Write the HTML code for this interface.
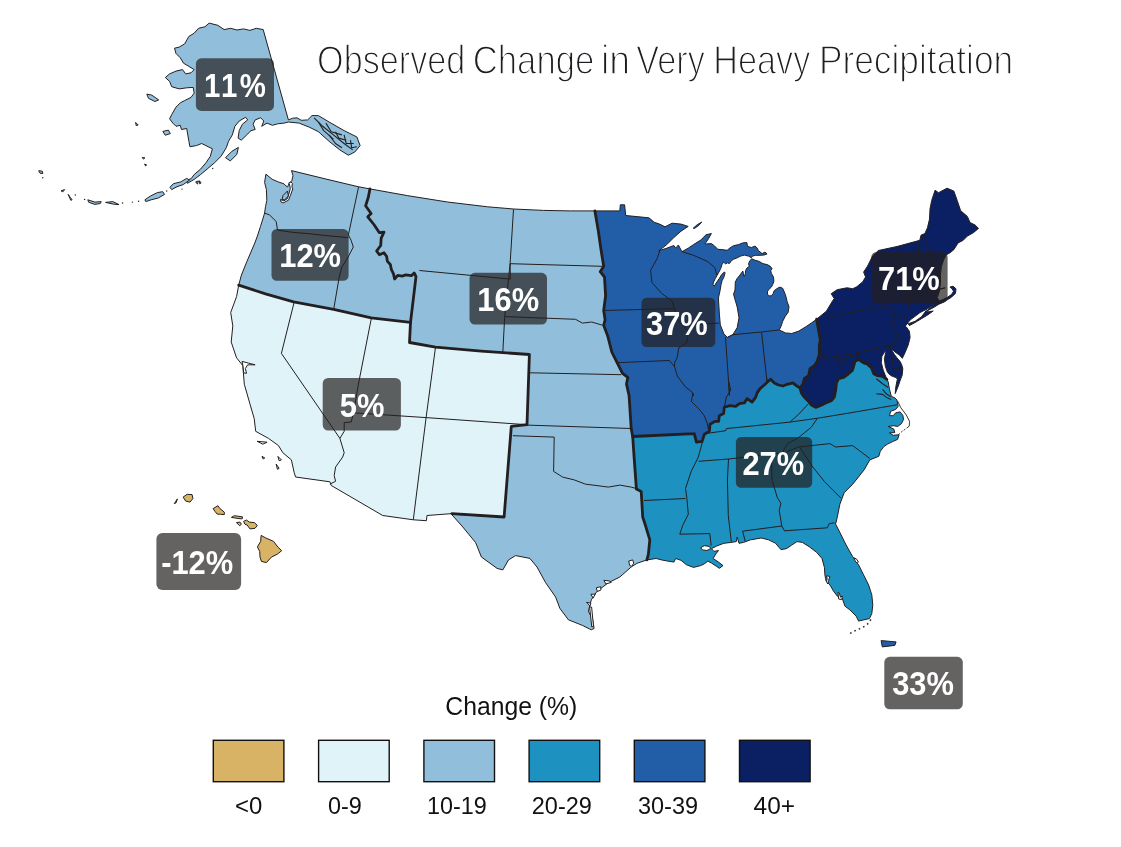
<!DOCTYPE html>
<html lang="en"><head><meta charset="utf-8"><title>Observed Change in Very Heavy Precipitation</title>
<style>html,body{margin:0;padding:0;background:#fff}body{width:1121px;height:847px;overflow:hidden}svg{display:block}</style></head>
<body>
<svg width="1121" height="847" viewBox="0 0 1121 847">
<rect width="1121" height="847" fill="#fff"/>
<text y="73.8" font-family="'Liberation Sans', sans-serif" font-size="40.5" fill="#1e1e22" stroke="#fff" stroke-width="1.4"><tspan x="317.11" textLength="148.19" lengthAdjust="spacingAndGlyphs">Observed</tspan> <tspan x="472.72" textLength="121.57" lengthAdjust="spacingAndGlyphs">Change</tspan> <tspan x="601.05" textLength="29.11" lengthAdjust="spacingAndGlyphs">in</tspan> <tspan x="636.36" textLength="68.48" lengthAdjust="spacingAndGlyphs">Very</tspan> <tspan x="713.27" textLength="96.98" lengthAdjust="spacingAndGlyphs">Heavy</tspan> <tspan x="818.90" textLength="194.37" lengthAdjust="spacingAndGlyphs">Precipitation</tspan></text>
<g stroke="#231F20" stroke-width="1" stroke-linejoin="round">
<path d="M291.5 170.6 L327 179.3 L358.6 186.8 L369.9 188.9 L368.4 197 L365.6 205.8 L371.1 213.5 L367.8 216.8 L373.9 224.5 L379.4 232.7 L384 232.1 L381.2 238.2 L380.7 245.5 L376.6 251 L379.4 254.7 L384 252.8 L386.7 256.5 L387.3 261.1 L390.4 264.7 L391.3 269.3 L393.5 273.9 L394.6 279 L397.7 275.4 L402.3 276.1 L405.9 274.8 L411.4 275.7 L414.2 273 L416 276.6 L410.5 322.4 L371.2 317.9 L333.7 309.3 L293.6 301.8 L265.5 293.8 L238.7 285.2 L241.4 275.1 L246.8 261.7 L254.8 243 L257.4 236 L260.5 226.4 L264.1 214.8 L264.6 213 L265.5 206.7 L266.8 200.4 L266.4 189.6 L264.6 182.4 L265.9 174.2 L272.2 179.3 L278.5 182 L283.9 183.8 L286.1 186 L287.5 186.9 L289.2 183.5 L291.8 180.8 L293 175.7 L291.5 170.6Z" fill="#91BFDB"/>
<path d="M238.7 285.2 L265.5 293.8 L293.6 301.8 L333.7 309.3 L371.2 317.9 L410.5 322.4 L410.5 322.4 L409.5 342.5 L435.5 347.1 L481.2 351.1 L529.4 354.5 L527 424.6 L511.3 426.4 L504.1 517 L452 513.6 L427 515.5 L426.4 520.7 L413.3 519.8 L382.7 515.5 L331.3 485.5 L329.9 481.8 L295.6 477 L294.2 472.7 L291.4 459.9 L282.8 452.7 L278.5 445.6 L268.5 438.4 L255.7 431.3 L254.2 418.5 L250 404.2 L244.3 384.2 L242.8 365.6 L237.1 358.5 L236.6 358 L231.2 342 L232.8 325.9 L230.7 312.5 L236.6 296.5 L238.7 285.2Z" fill="#E0F3F9"/>
<path d="M369.9 188.9 L407.3 195.6 L447.5 202 L487.6 206.8 L513.6 209 L543.5 210.4 L570.3 210.9 L594.9 210.9 L598.4 231.5 L601.1 250.3 L603.7 266.3 L600.2 271.7 L604.5 277 L605.6 295.8 L603.7 310.5 L605.1 319.9 L603.7 325.2 L607.7 335.9 L611.8 352 L617.1 362.7 L622.5 373.4 L627.8 377.4 L626.5 384.1 L629.1 395.8 L631.2 428.5 L632.7 436.5 L634.1 457.1 L636.4 489.1 L641.2 491.4 L642.7 517 L645.5 525.6 L649.8 539.9 L648.4 554.2 L646.9 559.9 L637 563.3 L631.2 567 L619.8 577 L608.4 582.7 L597 591.3 L591.3 599.8 L588.4 611.2 L592.7 619.8 L594.1 628.4 L591.3 629.8 L582.7 625.5 L568.4 619.8 L559.9 608.4 L555.6 597 L545.6 582.7 L537 567 L529.9 558.4 L515.6 555.6 L508.5 559.9 L502.8 569.9 L497.1 568.4 L481.4 557 L475.7 542.7 L462.8 527 L451.4 514.2 L504.1 517 L511.3 426.4 L527 424.6 L529.4 354.5 L481.2 351.1 L435.5 347.1 L409.5 342.5 L410.5 322.4 L416 276.6 L414.2 273 L411.4 275.7 L405.9 274.8 L402.3 276.1 L397.7 275.4 L394.6 279 L393.5 273.9 L391.3 269.3 L390.4 264.7 L387.3 261.1 L386.7 256.5 L384 252.8 L379.4 254.7 L376.6 251 L380.7 245.5 L381.2 238.2 L384 232.1 L379.4 232.7 L373.9 224.5 L367.8 216.8 L371.1 213.5 L365.6 205.8 L368.4 197 L369.9 188.9Z" fill="#91BFDB"/>
<path d="M594.9 210.9 L619.8 210.9 L620.3 204.8 L624.6 204.8 L625.7 215.5 L648.9 217.8 L654.3 222.3 L659.6 224.1 L665 226.8 L672.1 223.2 L681 224.1 L688.2 226.4 L681 231.2 L673.9 237.5 L666.8 244.6 L658.7 250.8 L666.8 248.2 L673.9 245.5 L675.7 248.2 L678.4 245 L681.9 251.7 L688.2 248.2 L693.5 244.6 L700.7 240.1 L706 234.8 L711.4 233.5 L708.7 238.4 L705.1 243.7 L706.4 243.9 L711.4 243.6 L714.3 245.7 L717.8 249.3 L722.1 249.6 L727.1 250.3 L730 247.9 L733.5 245.7 L738.5 244.6 L742.8 242.9 L746.8 242.5 L747.5 246.4 L751.4 247.5 L755 246.1 L757.1 247.9 L758.5 250.7 L762.1 253.6 L765 252.1 L767.1 253.9 L764.2 255 L760 255.3 L755.7 255.3 L752.5 256.1 L751.4 257.7 L748.5 256.1 L744.3 255.1 L740.7 256.1 L737.1 257.8 L733.5 259.3 L731.4 260.7 L729.3 263.6 L727.5 262.8 L725.7 263.9 L723.6 262.1 L722.1 264.3 L720.7 268.6 L718.9 272.1 L717.1 275.3 L715.3 278.5 L713.6 282.1 L712.8 285 L714.3 286 L716.8 282.1 L719.3 278.5 L721.4 275 L723.6 272.5 L724.8 272.1 L725 273.2 L723.9 277.1 L722.1 280.7 L721.1 284.3 L720.3 289.3 L719.3 294.2 L718.6 297.1 L718.5 299.9 L719.4 314.2 L720.3 324.9 L723.9 333.8 L727.4 337.4 L732.8 334.7 L737.2 327.6 L739 317.8 L737.2 307 L733.5 294.2 L735 290 L735.3 282.1 L737.1 278.5 L740 275 L742.1 272.1 L742.8 271 L743.4 273.5 L743.7 276 L744.6 276 L745.3 273.5 L745.7 270.3 L747.1 267.8 L749.3 266.4 L748.5 263.6 L750 260.7 L751.7 258.7 L755 260.3 L759.2 261.4 L762.8 263.6 L767.1 264.6 L770 266.1 L772.1 268.6 L770.7 270.7 L771.4 273.5 L773.5 277.1 L773.9 281.4 L772.8 284.3 L771.4 287.1 L768.9 289.3 L767.5 291.4 L767.5 294.2 L769.2 296 L771.4 295.7 L773.2 293.5 L774.2 290.7 L777.1 288.5 L780 287.1 L782.7 288.3 L785.4 294.6 L787.2 301.7 L789 307 L788.1 312.4 L785.4 316 L782.7 321.3 L780.9 326.7 L779.2 329.9 L785.4 332.9 L791.7 333.5 L798.8 331.1 L805.9 326.7 L811.3 323.1 L816.6 319.2 L818.5 330 L820.3 340 L819.3 345.7 L819.3 354.3 L817.1 361.4 L814.3 365.7 L810 368.6 L808.6 375.7 L804.3 378.6 L802.9 384.3 L800 387.9 L796.4 385.7 L792.9 382.9 L787.1 384.3 L782.9 386 L778.6 385 L774.3 382.9 L770.7 379.3 L767.9 381.4 L764.3 385 L760 388.6 L757.1 392.9 L755.7 397.1 L752.1 402.1 L747.1 398.6 L744.3 402.9 L739.3 403.6 L735.7 406.4 L730 405.7 L724.3 407.1 L723.6 413.6 L719.3 415.7 L718.6 421.4 L715 421.4 L710 424.3 L709.3 431.4 L704.3 434.3 L702.1 441.4 L696.4 442.1 L694.3 433.6 L694.1 433.7 L632.7 436.5 L631.2 428.5 L629.1 395.8 L626.5 384.1 L627.8 377.4 L622.5 373.4 L617.1 362.7 L611.8 352 L607.7 335.9 L603.7 325.2 L605.1 319.9 L603.7 310.5 L605.6 295.8 L604.5 277 L600.2 271.7 L603.7 266.3 L601.1 250.3 L598.4 231.5 L594.9 210.9Z" fill="#225EA8"/>
<path d="M632.7 436.5 L694.1 433.7 L694.3 433.6 L696.4 442.1 L702.1 441.4 L704.3 434.3 L709.3 431.4 L710 424.3 L715 421.4 L718.6 421.4 L719.3 415.7 L723.6 413.6 L724.3 407.1 L730 405.7 L735.7 406.4 L739.3 403.6 L744.3 402.9 L747.1 398.6 L752.1 402.1 L755.7 397.1 L757.1 392.9 L760 388.6 L764.3 385 L767.9 381.4 L770.7 379.3 L774.3 382.9 L778.6 385 L782.9 386 L787.1 384.3 L792.9 382.9 L796.4 385.7 L800 387.9 L801.4 392.9 L804.3 397.1 L808.6 401.4 L811.4 405 L815.7 407.4 L820 405.7 L825.7 402.9 L831.4 400.7 L834.3 397.1 L835.7 390 L836.4 382.9 L838.6 378.6 L843.6 377.4 L847.9 374.3 L852.5 370.1 L855 361.3 L858.8 359.4 L863.1 362.6 L866.9 363.8 L871.3 367.6 L873.8 373.8 L877.5 375.7 L882.5 376.3 L886.9 379.4 L888.2 381.9 L889.4 388.8 L891.3 396.3 L895.1 398.1 L896.9 400 L898.2 406.3 L895.7 409.4 L890.7 411.3 L889.4 415.7 L893.2 415.7 L895.7 412.8 L900.1 411.9 L902.8 415.3 L903.6 419.4 L901.3 423.8 L897.6 426.5 L893.8 425.7 L888.2 426.5 L893.8 429.1 L894.8 432.6 L889.4 432.9 L893.2 435.3 L899.1 434.7 L897.6 439.4 L892.6 441.6 L887.6 444.1 L883.8 446.6 L880.3 451.3 L878.8 456.3 L875 457.8 L869.8 459.9 L864.1 469.9 L852.7 484.2 L844.2 492.7 L839.9 504.1 L837 518.4 L835.6 524.1 L839.9 532.5 L846.1 545 L852.4 556.2 L858.6 564.9 L863.6 574.9 L868.6 584.9 L871.8 594.9 L872.8 604.9 L871.8 613.6 L869.4 618.6 L863.6 619.9 L858.6 621.1 L856.1 616.1 L849.9 609.9 L844.9 606.1 L842.4 598.7 L837.4 596.2 L833.6 591.2 L829.9 584.9 L826.1 581.2 L824.9 574.9 L824.4 567.4 L822 558.5 L816.6 552.3 L809.5 546.9 L802.4 542.4 L797 541.6 L791.7 545.1 L786.3 548.7 L780.9 549.6 L775.6 543.3 L768.5 539.8 L761.3 538 L750.6 539.8 L743.5 542.4 L739 543.3 L737.2 537.1 L736.3 541.6 L731 542.4 L723.9 543.3 L716.7 546 L711.4 548.7 L714 551.4 L718.5 550.5 L715.8 554 L713.1 558.5 L718.5 562.1 L723 565.6 L719.4 568.3 L716.7 566.5 L711.4 563 L707.8 561.2 L704.2 563.9 L700.7 565.6 L693.5 567.4 L686.4 564.7 L681 560.3 L675.7 558.5 L673.9 562.1 L663.2 560.3 L656.1 558.5 L646.9 559.9 L648.4 554.2 L649.8 539.9 L645.5 525.6 L642.7 517 L641.2 491.4 L636.4 489.1 L634.1 457.1 L632.7 436.5Z" fill="#1D91C0"/>
<path d="M886.9 379.4 L883.2 370.1 L881.3 362.6 L881.9 356.3 L885 351.3 L885.7 352.5 L884.4 358.8 L885.3 366.3 L887.5 372.3 L890.4 375.3 L893.5 376.7 L896.3 377.6 L897.3 379.4 L895.9 386.3 L895.2 393.6 L898.2 386.3 L900.3 380.1 L902.2 375.1 L902.8 368.8 L901.6 364.4 L899.8 361.1 L896.9 357.8 L894.4 354.4 L892.5 351.3 L891.5 348.5 L893.2 350.4 L896.3 352.9 L899.8 355.4 L902.3 358.3 L905.1 352.5 L908.2 345 L910.1 337.5 L909.4 331.3 L906.3 326.9 L905.1 326.3 L908.2 322.5 L910.1 320 L920.1 312.5 L927.6 308.8 L935.1 303.8 L926.6 311.2 L934.3 307.1 L938.5 304.4 L942.4 302.7 L946.5 300.3 L951.3 297.3 L955.5 293.4 L956 288.8 L953 286.2 L949.9 287.1 L952.1 288.8 L953.5 291.3 L951.8 294.2 L947.5 297.3 L942.8 299.6 L939 301 L937.3 297.6 L939.4 291.3 L940.6 282 L940.4 275.2 L941.4 266.7 L943.6 259.9 L946.2 254.8 L949.6 253.1 L953.8 249.7 L958.1 242.9 L963.2 240.3 L967.4 236.1 L973.4 232.7 L978.5 228.4 L975.1 225 L970 222.5 L967.4 216.5 L960.6 210.6 L957.2 200.4 L953.8 191 L947 188.2 L938.5 192.7 L935.1 190.2 L931.7 200.4 L930 208.9 L929.5 219.1 L927.5 227.6 L924.9 233.5 L921 235.2 L919.8 240.3 L897 246.5 L878.3 250.5 L872.4 256.4 L867.5 266.2 L863.6 272.1 L865.6 277 L862.6 281.9 L856.7 286.8 L852.8 288.7 L846.9 287.8 L837.1 289.7 L831.2 293.7 L834.2 298.6 L832.2 301.5 L826.3 311.3 L816.5 319.2 L818.5 330 L820.3 340 L819.3 345.7 L819.3 354.3 L817.1 361.4 L814.3 365.7 L810 368.6 L808.6 375.7 L804.3 378.6 L802.9 384.3 L800 387.9 L801.4 392.9 L804.3 397.1 L808.6 401.4 L811.4 405 L815.7 407.4 L820 405.7 L825.7 402.9 L831.4 400.7 L834.3 397.1 L835.7 390 L836.4 382.9 L838.6 378.6 L843.6 377.4 L847.9 374.3 L852.5 370.1 L855 361.3 L858.8 359.4 L863.1 362.6 L866.9 363.8 L871.3 367.6 L873.8 373.8 L877.5 375.7 L882.5 376.3 L886.9 379.4Z" fill="#0A2063"/>
<path d="M908.2 323.8 L915.1 321.3 L921.3 316.9 L926.3 310.6 L927.6 311.9 L933.2 311 L927.6 315 L921.3 318.8 L915.1 322.5 L909.4 325.6Z" fill="#0A2063"/>
<path d="M263.2 29.6 L256.3 28.3 L249.9 30.4 L243.5 28.9 L237 30 L230.6 28.3 L224.2 29.6 L217.8 25.3 L209.2 23.1 L204.9 26.8 L198.5 28.3 L194.2 33.2 L188.9 36.4 L184.6 43.9 L179.2 47.1 L174.5 48.2 L176 53.5 L180.3 57.8 L183.5 63.2 L188.9 66.4 L194.2 69.6 L191 72.8 L185.7 73.9 L182.5 69.6 L176 71.1 L169.6 73.9 L165.3 77.5 L169.6 81.4 L171.7 86.7 L179.2 88.9 L186.7 87.8 L193.2 87.4 L194.2 93.1 L191 97.4 L184.6 100.6 L180.3 102.8 L176 107.1 L171.7 114.6 L169.6 118.8 L172.8 123.1 L176 126.3 L180.3 125.3 L181.4 129.5 L186.7 128.5 L187.8 134.9 L188.9 141.3 L189.9 146.7 L196.4 145.6 L201.7 143.5 L208.1 146.7 L212.4 148.8 L210.3 156.3 L206 162.7 L200.6 169.1 L194.2 174.5 L191 178.8 L186.1 180.3 L187.4 183.3 L194.2 179.4 L200.6 174.5 L207.1 169.1 L214.6 162.7 L221 156.3 L226.3 147.7 L228.5 141.3 L232.3 134.9 L234.9 126.3 L239.2 121 L245.6 117.3 L247.7 119.9 L242.4 124.2 L239.2 130.6 L238.1 138.1 L241.3 140.2 L246.7 134.9 L251 130.6 L255.2 129.5 L253.1 124.2 L255.2 119.9 L260.6 117.8 L263.8 121 L261.7 126.3 L267 123.1 L272.4 125.3 L277.7 123.8 L284.1 123.1 L288.4 122 L299.1 123.1 L309.8 127.4 L318.4 131.7 L329.1 141.3 L339.8 149.9 L348.4 155.2 L354.8 152 L360.1 145.6 L356.9 137 L344.1 130.6 L329.1 122 L318.4 115.6 L312 115.6 L307.7 119.9 L301.3 120.3 L297 117.8 L292.7 118.2 L288.4 119.9Z" fill="#91BFDB"/>
<path d="M146.8 94.1 L151.7 95.1 L158.7 99.9 L154.9 101.5 L148.5 98.3Z" fill="#91BFDB"/>
<path d="M162.9 131.4 L168.4 130.1 L170.3 133.6 L165.2 135.2Z" fill="#91BFDB"/>
<path d="M225.5 157.7 L231.9 151.3 L238.4 147.4 L236.8 154.5 L230.3 160.9Z" fill="#91BFDB"/>
<path d="M135.6 122.4 L138.2 125 L136.2 125.6Z" fill="#91BFDB"/>
<path d="M169.9 187.3 L173.4 183.7 L180.6 181.9 L186.8 178.4 L189.5 180.1 L183.2 184.6 L177 186.7 L171.7 189.6Z" fill="#91BFDB"/>
<path d="M144.9 199.8 L150.2 196.2 L157.4 192.6 L162.7 191.7 L164.5 194.4 L158.3 198 L151.1 199.8 L145.8 201.6Z" fill="#91BFDB"/>
<path d="M105.6 202.4 L112.8 201.6 L119 204.6 L113.7 204.2Z" fill="#91BFDB"/>
<path d="M87.8 199.8 L94.9 202.1 L101.2 201.6 L100.3 203.5 L94.9 204.4 L88.7 202.3Z" fill="#91BFDB"/>
<path d="M68.2 194.4 L70 197.1 L72.1 199.8 L70.8 200.3Z" fill="#91BFDB"/>
<path d="M61 190.8 L64.6 189.6 L62.8 191.9Z" fill="#91BFDB"/>
<path d="M38.7 170.7 L42.3 171.2 L42.8 173.5 L40 173.2Z" fill="#91BFDB"/>
<path d="M142.2 157.5 L144.9 157.8 L143.5 159.1Z" fill="#91BFDB"/>
<path d="M144.5 164.1 L146.7 165 L145.6 165.9Z" fill="#91BFDB"/>
<path d="M195.7 181.9 L198.4 181 L197.5 184.2Z" fill="#91BFDB"/>
<path d="M199.3 180.7 L201.1 182.8 L199.8 183.9Z" fill="#91BFDB"/>
<circle cx="132.4" cy="202.1" r="0.7" fill="#231F20" stroke="none"/>
<circle cx="138.6" cy="201.2" r="0.7" fill="#231F20" stroke="none"/>
<circle cx="122.6" cy="203.0" r="0.7" fill="#231F20" stroke="none"/>
<circle cx="75.3" cy="195.0" r="0.7" fill="#231F20" stroke="none"/>
<circle cx="42.8" cy="177.8" r="0.7" fill="#231F20" stroke="none"/>
<circle cx="182.0" cy="189.1" r="0.7" fill="#231F20" stroke="none"/>
<circle cx="84.6" cy="199.4" r="0.7" fill="#231F20" stroke="none"/>
<circle cx="166.7" cy="191.0" r="0.7" fill="#231F20" stroke="none"/>
<circle cx="212.7" cy="168.5" r="0.7" fill="#231F20" stroke="none"/>
<path d="M174.3 503.6 L177.4 498.9 L176 502.9Z" fill="#D8B365"/>
<path d="M183.1 497.1 L187.1 494.3 L192.1 494.6 L192.9 498.6 L190 502.1 L185.7 501.1Z" fill="#D8B365"/>
<path d="M213.1 508.6 L217.9 505.7 L220 508.6 L224.3 512.1 L224.3 514.6 L220.7 514.3 L217.1 514 L215 511.4Z" fill="#D8B365"/>
<path d="M231.4 517.4 L234.3 515.7 L242.6 516.9 L242.1 518.9 L237.1 518.3Z" fill="#D8B365"/>
<path d="M236.4 522.6 L240 522.1 L241.4 524.3 L239.7 525.7Z" fill="#D8B365"/>
<path d="M243.6 521.4 L246.4 520 L249.3 522.1 L254.3 522.6 L257.4 525.4 L255 528.3 L250 528.9 L247.1 525 L245 524.3Z" fill="#D8B365"/>
<path d="M261.1 535.4 L265.7 537.9 L273.6 541.4 L277.9 547.1 L281.7 550.7 L277.1 554.3 L271.4 557.1 L266.4 562.6 L261.4 561.4 L260 557.1 L259.7 551.4 L257.4 546.9 L260.7 541.4Z" fill="#D8B365"/>
<path d="M257.1 441.3 L267.1 442.2 L262.8 444.2Z" fill="#E0F3F9"/>
<path d="M262 456.4 L264.8 457.9 L263.1 459Z" fill="#E0F3F9"/>
<path d="M277.9 456.4 L281.4 459.9 L279.1 460.7Z" fill="#E0F3F9"/>
<path d="M276.2 464.1 L279.1 468.4 L277.4 469.3Z" fill="#E0F3F9"/>
<path d="M881.1 640.6 L896.1 641.9 L894.8 645.4 L882.3 646.9Z" fill="#225EA8"/>
<path d="M693.2 228.2 L697.4 224.6 L701.7 222.1 L698.9 225.3 L694.4 228.5Z" fill="#225EA8"/>
<path d="M700.7 547.8 L704.2 545.7 L709.6 546.4 L710.5 548.7 L706.9 550.5 L702.4 549.9Z" fill="#fff"/>
<path d="M242 361.4 L248.5 363.1 L255.1 364.8 L247.7 364.8 L245.4 368.5 L246.5 373.4 L243.7 372.8 L243.1 366.5Z" fill="#fff"/>
<path d="M288.8 182.9 L291 182 L292.4 183.5 L291.9 186.9 L292.8 188.9 L290.3 195.7 L288.5 200.2 L283.1 202.9 L281 202 L280.4 199.5 L283.9 200.8 L287.5 198.6 L288.8 194.1 L290.3 188.7 L289.7 185.1Z" fill="#fff"/>
<path d="M628.8 561 L632.7 559.9 L633.7 563.2 L631.6 566.4 L629.5 565.3Z" fill="#fff"/>
<path d="M603.8 580.3 L609.1 580.9 L611.3 582.4 L605.9 583.9Z" fill="#fff"/>
<path d="M596.3 587.8 L600.6 586.7 L601 589.9 L597.4 591.6Z" fill="#fff"/>
<path d="M590.9 594.2 L595.2 594.2 L593.1 598.1Z" fill="#fff"/>
<path d="M586.6 602.3 L590.9 603.2 L589.9 606Z" fill="#fff"/>
<path d="M589.6 607 L591.6 607 L593.5 626.3 L591.8 627Z" fill="#fff"/>
<path d="M826.5 575.8 L829.8 576.4 L828.6 580.5 L827.7 583.9 L826.5 581.7 L827.2 578.7Z" fill="#fff"/>
<path d="M837.9 592.4 L839.3 593 L840.5 597.2 L842.3 596 L841.7 599.6 L838.7 599Z" fill="#fff"/>
<path d="M854.2 557.9 L856.6 559.1 L858.4 562.1 L857 563.2 L855.1 560.9Z" fill="#fff"/>
<path d="M283 195.5 L287.5 191 L288.3 195.9 L284.8 199.9 L282.1 199.5Z" fill="#91BFDB"/>
<path d="M870.8 619.4 L868.9 622.9 L864.9 626.1 L859.9 628.6 L854.9 630.9 L848.9 634.1" fill="none" stroke-dasharray="1.6 3.2" stroke-width="1.4"/>
<path d="M897.8 401.3 L900.7 407.5 L906.3 415 L909.5 421.3 L909.3 426 L906.6 428.2" fill="none" stroke-width="0.9"/>
<path d="M905.3 429.1 L901.3 432.1 L898.8 434.4" fill="none" stroke-width="0.9" stroke-dasharray="2 1.5"/>
<path d="M876.3 378.8 L882.6 383.8 L888.2 387.5" fill="none" stroke-width="1.1"/>
<path d="M882.6 389.4 L886.3 393.8 L890.7 396.9" fill="none" stroke-width="1.1"/>
<path d="M876.3 393.8 L882.6 394.4 L887.6 398.1 L891.3 399.4" fill="none" stroke-width="1.1"/>
<path d="M314.1 117.8 L322.7 126.3 L333.4 134.9 L344.1 143.5 L352.7 149.9" fill="none" stroke-width="1.1"/>
<path d="M318.4 122 L323.7 130.6 L333.4 139.2" fill="none" stroke-width="1.1"/>
<path d="M335.5 131.7 L338.7 138.1 L346.2 140.2" fill="none" stroke-width="1.1"/>
<path d="M344.1 134.9 L346.2 143.5 L353.7 143.5" fill="none" stroke-width="1.1"/>
<path d="M325.9 123.1 L331.2 131.7 L341.9 134.9" fill="none" stroke-width="1.1"/>
<path d="M350.5 140.2 L351.6 147.7 L356.9 146.7" fill="none" stroke-width="1.1"/>
<path d="M329.1 134.9 L335.5 143.5 L341.9 147.7" fill="none" stroke-width="1.1"/>
</g>
<g fill="none" stroke="#231F20" stroke-width="1" stroke-linejoin="round">
<path d="M358.6 186.8 L348.4 234.9 L351.1 240.3 L353.3 247 L347.1 259 L341.8 267 L339.1 277.7 L333.7 309.3"/>
<path d="M264.6 213.1 L269.5 214.9 L276.2 221.5 L277.5 230.1 L292.3 232.3 L308.3 233.6 L327 235.7 L348.4 237.6"/>
<path d="M294.2 302 L281.4 353.4 L339.9 438.4 L344.2 452.7 L342.7 457 L335.6 467 L334.2 475.6 L335.6 481.3 L329.9 484.1"/>
<path d="M371.3 318.5 L358.4 384.2 L353.6 412.8 L352.7 415.6 L351.3 421.9 L344.2 422.7 L344.2 431.3 L339.9 438.4"/>
<path d="M353.6 412.8 L426.1 417.6 L526.9 424.7"/>
<path d="M435.5 347.1 L426.1 417.6 L413.3 519.8"/>
<path d="M419.4 270.5 L510.3 279.1 L510.1 263.7"/>
<path d="M513.5 209.3 L510.1 263.7 L504.7 316.6 L502.8 352.5"/>
<path d="M510.1 263.7 L602.4 266.3"/>
<path d="M504.7 316.6 L575.6 319.3 L582.3 323.1 L591.7 322 L602.4 325.2"/>
<path d="M530.1 372.8 L621.1 374.7"/>
<path d="M527.1 425.1 L631.2 428.5"/>
<path d="M512.8 435.7 L554.2 437.1 L553.6 471.4 L562.7 477.1 L574.2 479.9 L585.6 484.2 L597 485.6 L608.4 487.1 L619.8 485.1 L631.2 487.1 L638.4 489.1"/>
<path d="M603.7 310.5 L674.6 308.6"/>
<path d="M659.9 250.3 L657.2 258.3 L650.6 270.3 L651.9 282.4 L661.3 293.1 L672 301.1 L674.6 308.6 L677.3 319.9 L688 330.6 L688 335.9 L686.7 342.6 L678.7 348 L677.3 357.3 L674.6 362.7 L674.6 366.7 L677.3 376 L685.3 386.8 L692 392.1 L693.4 395.8 L692.9 392.9 L691.4 401.4 L698.6 408.6 L704.3 415.7 L707.1 422.9 L708.6 430"/>
<path d="M617.1 362.7 L669.3 360.5 L674.6 366.7"/>
<path d="M682.7 325.2 L718.8 323.1"/>
<path d="M725.5 337.2 L729.5 395.8 L728.6 381.4 L730.7 390 L726.4 397.1 L724.3 407.1"/>
<path d="M761.6 332.7 L767 381.4 L767.1 378.6"/>
<path d="M727.4 337.4 L732.8 334.7 L761.3 332 L779.2 329.9"/>
<path d="M681.9 251.7 L693.5 255.3 L707.8 261.6 L714.9 267.8 L716.7 274.9"/>
<path d="M644.1 500.5 L685.5 498.5"/>
<path d="M702.6 441.4 L698.3 457.1 L691.2 471.4 L685.5 488.5 L686.9 498.5 L688.3 514.2 L682.6 525.6 L679.8 534.2 L709.8 533.6 L711.2 545.6"/>
<path d="M698.6 461.3 L728.5 459 L784.2 452.8 L798.5 447 L829.9 443.6 L835.6 447 L852.7 445.6 L869.8 458.5"/>
<path d="M705.7 433.6 L725.7 430.7 L726.4 428.6 L790 422.1 L817.1 418.3 L850 412.9 L897 404.8"/>
<path d="M790 422.1 L798.6 414.3 L808.6 403.6"/>
<path d="M817.1 418.6 L811.4 427.1 L804.3 432.9 L797.1 438.6 L788.6 442.9 L784.3 448.6 L782.9 452.9"/>
<path d="M728.5 459 L727.4 480 L728.3 515.7 L731.3 541.6"/>
<path d="M771.4 454.2 L772 480 L777.4 497.8 L780.9 503.2 L779.2 510.3 L781.8 526 L784.5 530.8"/>
<path d="M799.9 447.6 L812.8 467 L824.2 481.3 L832.7 489.9 L841.3 498.4"/>
<path d="M745.3 541.6 L742.6 531.2 L781.8 526"/>
<path d="M784.5 530.8 L827.3 527.8 L829.1 523.7 L834.5 522.8"/>
<path d="M819.3 345.7 L823.6 358.6 L850 354.3 L889.8 345.7"/>
<path d="M837.9 356.4 L839.7 366.4 L845.7 358.6 L849.9 357.1 L858.4 354.3 L861.3 360.8"/>
<path d="M890 345 L893.8 368.8 L902.6 367.6"/>
<path d="M894.4 315.6 L891.9 323.8 L895 330 L900.1 336.3 L895.7 341.3 L891.9 345"/>
<path d="M826.3 317.6 L888.1 305.4 L894 314.3 L907.8 319.2"/>
<path d="M897 246.5 L899.9 264.2 L907.8 295.6 L909.7 315.2"/>
<path d="M919.5 240.7 L917.6 256.4 L915.6 285.8"/>
<path d="M923.5 234.8 L933.3 264.2 L939.2 279.9"/>
<path d="M907.8 295.6 L945.1 287.8"/>
<path d="M907.8 298.6 L945.1 287.8"/>
<path d="M931.3 295.6 L933.3 303.5"/>
</g>
<g fill="none" stroke="#231F20" stroke-width="2.8" stroke-linejoin="round" stroke-linecap="round">
<path d="M238.7 285.2 L265.5 293.8 L293.6 301.8 L333.7 309.3 L371.2 317.9 L410.5 322.4"/>
<path d="M369.9 188.9 L368.4 197 L365.6 205.8 L371.1 213.5 L367.8 216.8 L373.9 224.5 L379.4 232.7 L384 232.1 L381.2 238.2 L380.7 245.5 L376.6 251 L379.4 254.7 L384 252.8 L386.7 256.5 L387.3 261.1 L390.4 264.7 L391.3 269.3 L393.5 273.9 L394.6 279 L397.7 275.4 L402.3 276.1 L405.9 274.8 L411.4 275.7 L414.2 273 L416 276.6 L410.5 322.4"/>
<path d="M410.5 322.4 L409.5 342.5 L435.5 347.1 L481.2 351.1 L529.4 354.5 L527 424.6 L511.3 426.4 L504.1 517 L452 513.6"/>
<path d="M594.9 210.9 L598.4 231.5 L601.1 250.3 L603.7 266.3 L600.2 271.7 L604.5 277 L605.6 295.8 L603.7 310.5 L605.1 319.9 L603.7 325.2 L607.7 335.9 L611.8 352 L617.1 362.7 L622.5 373.4 L627.8 377.4 L626.5 384.1 L629.1 395.8 L631.2 428.5 L632.7 436.5 L634.1 457.1 L636.4 489.1 L641.2 491.4 L642.7 517 L645.5 525.6 L649.8 539.9 L648.4 554.2 L646.9 559.9"/>
<path d="M632.7 436.5 L694.1 433.7 L694.3 433.6 L696.4 442.1 L702.1 441.4 L704.3 434.3 L709.3 431.4 L710 424.3 L715 421.4 L718.6 421.4 L719.3 415.7 L723.6 413.6 L724.3 407.1 L730 405.7 L735.7 406.4 L739.3 403.6 L744.3 402.9 L747.1 398.6 L752.1 402.1 L755.7 397.1 L757.1 392.9 L760 388.6 L764.3 385 L767.9 381.4 L770.7 379.3 L774.3 382.9 L778.6 385 L782.9 386 L787.1 384.3 L792.9 382.9 L796.4 385.7 L800 387.9"/>
<path d="M800 387.9 L802.9 384.3 L804.3 378.6 L808.6 375.7 L810 368.6 L814.3 365.7 L817.1 361.4 L819.3 354.3 L819.3 345.7 L820.3 340 L818.5 330 L816.6 319.2"/>
<path d="M800 387.9 L801.4 392.9 L804.3 397.1 L808.6 401.4 L811.4 405 L815.7 407.4 L820 405.7 L825.7 402.9 L831.4 400.7 L834.3 397.1 L835.7 390 L836.4 382.9 L838.6 378.6 L843.6 377.4 L847.9 374.3 L852.5 370.1 L855 361.3 L858.8 359.4 L863.1 362.6 L866.9 363.8 L871.3 367.6 L873.8 373.8 L877.5 375.7 L882.5 376.3 L886.9 379.4"/>
</g>
<g font-family="'Liberation Sans', sans-serif" font-weight="bold" font-size="33" fill="#fff" text-anchor="middle">
<rect x="195.9" y="58.3" width="78.1" height="52.6" rx="5.5" fill="#231F20" fill-opacity="0.7"/>
<text transform="translate(236.1 96.9) scale(0.89 1)" letter-spacing="2.6">11%</text>
<rect x="271.5" y="229" width="77.1" height="51.8" rx="5.4" fill="#231F20" fill-opacity="0.7"/>
<text transform="translate(310.1 267.2) scale(0.935 1)">12%</text>
<rect x="469.5" y="272.8" width="77.5" height="51.7" rx="5.4" fill="#231F20" fill-opacity="0.7"/>
<text transform="translate(508.2 311.0) scale(0.935 1)">16%</text>
<rect x="641.5" y="297.8" width="73.8" height="49.3" rx="5.2" fill="#231F20" fill-opacity="0.7"/>
<text transform="translate(676.9 334.8) scale(0.935 1)">37%</text>
<rect x="871.3" y="252" width="76.3" height="50.9" rx="5.3" fill="#231F20" fill-opacity="0.7"/>
<text transform="translate(908.9 289.8) scale(0.935 1)">71%</text>
<rect x="322.7" y="377.9" width="78.2" height="52.6" rx="5.5" fill="#231F20" fill-opacity="0.7"/>
<text transform="translate(362.1 416.5) scale(0.935 1)">5%</text>
<rect x="735.9" y="437" width="76.3" height="50.8" rx="5.3" fill="#231F20" fill-opacity="0.7"/>
<text transform="translate(773.3 474.7) scale(0.935 1)">27%</text>
<rect x="156.4" y="533.1" width="84.7" height="56.9" rx="5.9" fill="#231F20" fill-opacity="0.7"/>
<text transform="translate(197.2 573.9) scale(0.935 1)">-12%</text>
<rect x="884.3" y="656.8" width="78.5" height="52.5" rx="5.5" fill="#231F20" fill-opacity="0.7"/>
<text transform="translate(923.0 695.3) scale(0.935 1)">33%</text>
</g>
<g font-family="'Liberation Sans', sans-serif" fill="#111">
<text x="445.37" y="714.9" font-size="26.5" textLength="131.85" lengthAdjust="spacingAndGlyphs">Change (%)</text>
<rect x="213.3" y="740.3" width="70.6" height="41.4" fill="#D8B365" stroke="#111" stroke-width="1.4"/>
<text x="235.10" y="814.2" font-size="23" textLength="27.32" lengthAdjust="spacingAndGlyphs">&lt;0</text>
<rect x="318.6" y="740.3" width="70.6" height="41.4" fill="#E0F3F9" stroke="#111" stroke-width="1.4"/>
<text x="327.96" y="814.2" font-size="23" textLength="33.87" lengthAdjust="spacingAndGlyphs">0-9</text>
<rect x="423.9" y="740.3" width="70.6" height="41.4" fill="#91BFDB" stroke="#111" stroke-width="1.4"/>
<text x="427.11" y="814.2" font-size="23" textLength="59.75" lengthAdjust="spacingAndGlyphs">10-19</text>
<rect x="529.1" y="740.3" width="70.6" height="41.4" fill="#1D91C0" stroke="#111" stroke-width="1.4"/>
<text x="531.77" y="814.2" font-size="23" textLength="60.05" lengthAdjust="spacingAndGlyphs">20-29</text>
<rect x="634.3" y="740.3" width="70.6" height="41.4" fill="#225EA8" stroke="#111" stroke-width="1.4"/>
<text x="637.98" y="814.2" font-size="23" textLength="60.05" lengthAdjust="spacingAndGlyphs">30-39</text>
<rect x="739.5" y="740.3" width="70.6" height="41.4" fill="#0A2063" stroke="#111" stroke-width="1.4"/>
<text x="753.59" y="814.2" font-size="23" textLength="41.45" lengthAdjust="spacingAndGlyphs">40+</text>
</g>
</svg>
</body></html>
